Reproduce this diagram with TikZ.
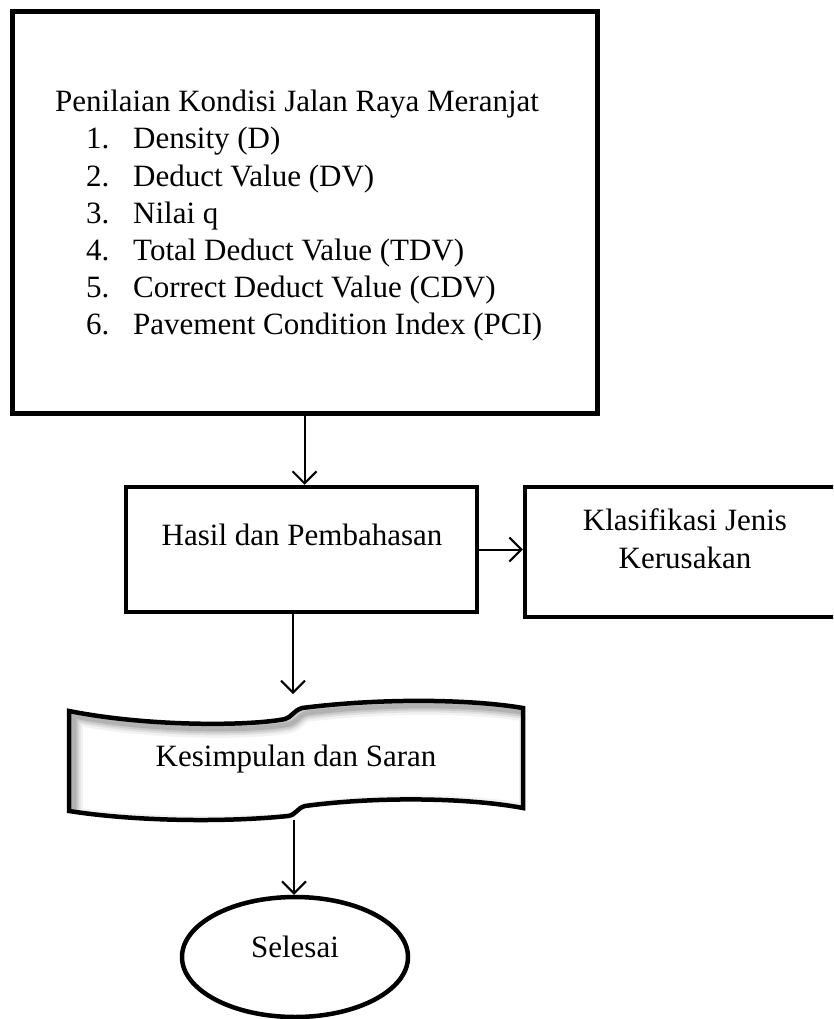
\documentclass[tikz,border=0pt]{standalone}
\usepackage{fontspec}
\setmainfont{Liberation Serif}
\usetikzlibrary{arrows.meta,shapes.geometric}
\begin{document}
\begin{tikzpicture}[x=1pt,y=-1pt,
  box/.style={draw, line width=4.5pt, rectangle, inner sep=0pt},
  arr/.style={line width=2pt, -{Straight Barb[length=12pt,width=24pt,line width=2pt]}},
  txt/.style={font=\fontsize{31}{37}\selectfont, inner sep=0pt},
  docshape/.style={insert path={(69,711) .. controls (150,727) and (250,726) .. (285,719)
     .. controls (292,717) and (293,711) .. (302,708)
     .. controls (380,698) and (470,699) .. (523,708) -- (523,808)
     .. controls (470,798) and (380,796) .. (305,806)
     .. controls (297,808) and (296,815) .. (288,816)
     .. controls (230,822) and (140,822) .. (69,811) -- cycle}},
]
\clip (0,0) rectangle (833,1019);
\fill[white] (0,0) rectangle (833,1019);

% top box
\node[box, line width=5pt, minimum width=585pt, minimum height=401pt] (topbox) at (304.5,212.5) {};
\node[txt, anchor=base west] (title) at (55,112) {Penilaian Kondisi Jalan Raya Meranjat};
\foreach \i/\t in {1/Density (D), 2/Deduct Value (DV), 3/Nilai q, 4/Total Deduct Value (TDV), 5/Correct Deduct Value (CDV), 6/Pavement Condition Index (PCI)} {
  \node[txt, anchor=base west] (num\i) at (86,{112+37*\i}) {\i.};
  \node[txt, anchor=base west] (item\i) at (133,{112+37*\i}) {\t};
}

% hasil
\node[box, minimum width=351pt, minimum height=125pt] (hasil) at (301.5,549.5) {};
\node[txt, anchor=base] (hasiltxt) at (302,545) {Hasil dan Pembahasan};

% klasifikasi
\node[box, minimum width=320pt, minimum height=130pt] (klas) at (685,552) {};
\node[txt, anchor=base] (klas1) at (685,530) {Klasifikasi Jenis};
\node[txt, anchor=base] (klas2) at (685,568) {Kerusakan};

% document shape
\begin{scope}
  \clip[docshape];
  \fill[white][docshape];
  \begin{scope}[xshift=5pt,yshift=-5pt]
    \foreach \w/\o in {18/0.05,13/0.07,9/0.09,5/0.12} {
      \draw[line width=\w pt, black, opacity=\o][docshape];
    }
  \end{scope}
\end{scope}
\draw[line width=4.5pt, line join=miter][docshape];
\node[txt, anchor=base] (kesimpulan) at (296,766) {Kesimpulan dan Saran};
\coordinate (docTop) at (293,694);
\coordinate (docBot) at (294,820);

% ellipse
\node[draw, line width=4.5pt, ellipse, minimum width=226pt, minimum height=120pt, inner sep=0pt] (selesai) at (295,957) {};
\node[txt, anchor=base] (selesaitxt) at (295,957) {Selesai};

% connectors
\draw[arr] (topbox.south) -- (topbox.south |- hasil.north);
\draw[arr] (hasil.east) -- (hasil.east -| klas.west);
\draw[arr] (hasil.south -| docTop) -- (docTop);
\draw[arr] (docBot) -- (docBot |- selesai.north);
\end{tikzpicture}
\end{document}
